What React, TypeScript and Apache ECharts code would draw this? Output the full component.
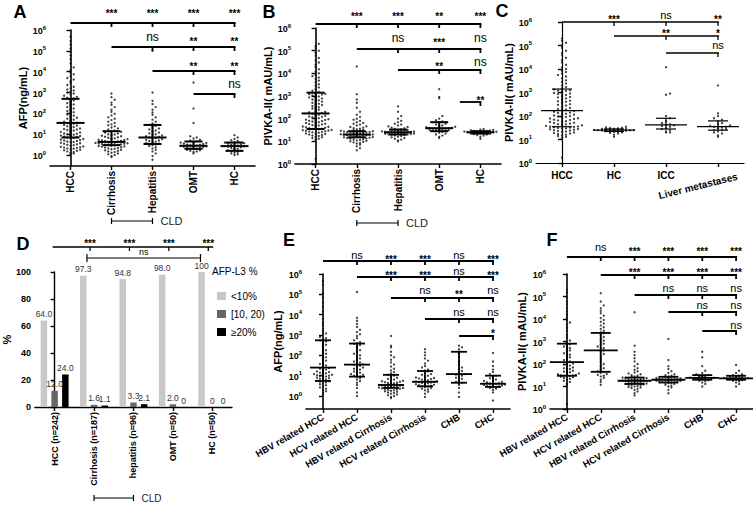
import React, { useEffect, useRef } from "react";
import * as echarts from "echarts";

const FONT = "'Liberation Sans', Arial, Helvetica, sans-serif";

// ---------------- categories ----------------
const catsAB = ["HCC", "Cirrhosis", "Hepatitis", "OMT", "HC"];
const catsC = ["HCC", "HC", "ICC", "Liver metastases"];
const catsD = ["HCC (n=242)", "Cirrhosis (n=187)", "hepatitis (n=96)", "OMT (n=50)", "HC (n=50)"];
const catsEF = ["HBV related HCC", "HCV related HCC", "HBV related Cirrhosis", "HCV related Cirrhosis", "CHB", "CHC"];
const decadeTicks = [1, 10, 100, 1000, 10000, 100000, 1000000];

// ---------------- Panel A: AFP (ng/mL) ----------------
const afpHCC = [1.1,1.2,1.3,1.4,1.5,1.6,1.7,1.8,1.9,2.0,2.1,2.2,2.3,2.4,2.5,2.6,2.8,3.0,3.1,3.3,3.5,3.7,3.9,4.1,4.3,4.5,4.8,5.0,5.3,5.6,5.9,6.2,6.6,
  7.0,7.4,7.8,8.2,8.6,9.0,9.5,10,10.5,11,12,13,14,15,16,17,18,19,20,22,24,26,28,30,32,34,
  36,40,45,50,56,62,70,78,88,100,115,130,150,170,200,230,270,310,360,420,480,
  520,560,620,700,800,900,1000,1100,1250,1400,1600,1900,2300,2800,3500,4200,5000,6000,7500,9000,12000,16000,25000,40000,60000,90000,130000,200000,300000,480000];
const afpCirrhosis = [0.8,0.9,1.0,1.1,1.2,1.3,1.4,1.5,1.6,1.7,1.8,1.9,2.0,2.1,2.2,2.3,2.4,2.5,2.6,2.7,2.8,2.9,3.0,3.1,3.2,3.3,3.4,3.5,3.6,3.7,3.8,3.9,4.0,4.1,4.2,4.3,4.5,4.7,4.9,5.1,5.3,5.5,5.8,6.1,6.4,6.8,7.2,7.6,8.0,8.5,9.0,9.6,10,11,12,13,14,15,17,19,21,24,27,30,35,40,48,56,65,80,95,120,150,200,260,330,450,600,900];
const afpHepatitis = [0.6,0.9,1.2,1.5,1.8,2.1,2.4,2.7,3.0,3.2,3.4,3.6,3.8,4.1,4.4,4.7,5.0,5.4,5.8,6.2,6.6,7.0,7.5,8.0,8.6,9.2,10,11,12,13.5,15,17,19,22,25,28,33,40,50,65,85,110,150,200,280,400,1000,100000];
const afpOMT = [1.2,1.4,1.5,1.6,1.7,1.8,1.9,2.0,2.1,2.2,2.3,2.4,2.5,2.6,2.7,2.8,2.9,3.0,3.1,3.2,3.4,3.6,3.8,4.0,4.3,4.6,5.0,5.5,6.2,7.0,8.0,35,170,3000];
const afpHC = [1.0,1.1,1.2,1.3,1.4,1.5,1.6,1.7,1.9,2.0,2.2,2.4,2.5,2.6,2.7,2.8,2.9,3.1,3.3,3.5,3.7,4.0,4.3,4.7,5.2,6.0,7.0,9.0];
const medA = [35, 4.3, 7, 2.8, 2.7];
const q1A = [7, 3, 3.4, 2, 1.6];
const q3A = [500, 14, 28, 4.5, 4];
const sigA = [["***","***","***","***"], ["ns","**","**"], ["**","**"], ["ns"]];

// ---------------- Panel B: PIVKA-II (mAU/mL) ----------------
const pivHCC = [1.7,12,13,14,15,16,17,18,19,20,21,22,23,24,25,26,27,28,29,30,31,32,33,34,35,36,38,40,
  42,44,45,48,50,52,56,58,60,65,68,70,75,78,80,88,90,95,100,105,115,120,125,135,140,150,165,
  180,190,200,220,250,280,300,320,360,400,420,450,500,560,620,650,700,780,860,900,950,1050,1150,1200,1250,1350,
  1500,1700,2000,2400,2800,3300,4000,4800,5600,6500,7500,8500,10000,12000,15000,19000,24000,30000,38000,48000,60000,80000,100000,130000,160000,200000];
const pivCirrhosis = [4,5,6,7,8,8.5,9,9.5,10,10.5,11,11.5,12,12.5,13,13.5,14,14.5,15,15.5,16,16.5,17,17.5,18,18.5,19,19.5,20,20,20.5,21,21.5,22,22.5,23,23.5,24,24.5,25,25.5,26,27,28,29,30,31,32,34,36,38,40,43,46,50,55,60,65,70,80,90,100,120,150,200,300,500,700,1200,20000];
const pivHepatitis = [10,11,12,13,14,15,16,17,18,19,19.5,20,20.5,21,21.5,22,22.5,23,23.5,24,24.5,25,25.5,26,26.5,27,27.5,28,29,30,31,32,33,34,36,38,40,43,46,50,55,60,70,80,100,130,200,350];
const pivOMT = [14,16,18,20,22,24,26,28,29,30,31,32,33,34,35,36,37,38,39,40,42,44,47,50,55,60,68,75,85,100,130,800,900,2000];
const pivHC = [13,16,18,19,20,21,21.5,22,22.5,23,23.5,24,24.5,25,25,25.5,26,26.5,27,27.5,28,28.5,29,30,31,32,33,35];
const medB = [170, 20, 25, 38, 25];
const q1B = [35, 15, 20, 28, 22];
const q3B = [1400, 28, 33, 70, 28];
const sigB = [["***","***","**","***"], ["ns","***","ns"], ["**","ns"], ["**"]];

// ---------------- Panel C ----------------
const pivICC = [20,20,22,25,28,30,35,38,40,42,45,50,60,80,100,800,900,12000];
const pivLiverMet = [13,15,18,20,22,25,25,28,30,32,35,35,38,40,45,50,60,70,80,100,130,2000];
const medC = [170, 25, 42, 35];
const q1C = [35, 22, 28, 25];
const q3C = [1400, 28, 80, 62];
const sigC = [["***","ns","**"], ["**","*"], ["ns"]];

// ---------------- Panel D: AFP-L3 % ----------------
const afpL3Below10 = [64.0, 97.3, 94.8, 98.0, 100];
const afpL3From10To20 = [12.0, 1.6, 3.3, 2.0, 0];
const afpL3Above20 = [24.0, 1.1, 2.1, 0, 0];
const afpL3Names = ["<10%", "[10, 20)", "\u226520%"];
const sigD = [["***","***","***","***"]];

// ---------------- Panel E: AFP by etiology ----------------
const afpHBVHCC = [1.1,1.4,1.7,2.0,2.3,2.6,3.0,3.4,3.8,4.2,4.6,5.0,5.3,5.6,6.0,6.5,7.0,
  7.5,8,8.5,9,9.5,10,10.5,11,12,12.5,13,14,15,16,18,20,22,24,
  28,32,38,45,55,65,80,100,120,150,180,220,270,330,400,480,540,
  600,700,800,1000,1200,1500,2000,3000,4000,6000,10000,15000,25000,40000,70000,120000,300000,450000];
const afpHCVHCC = [1.0,1.5,2.5,3.5,4.5,5.5,6.5,7.5,8.5,9,10,11,12,13,14,16,18,20,22,25,28,31,34,36,40,45,50,60,70,85,100,120,150,180,220,270,320,370,400,450,550,700,900,1100,1400,1800,2500,3500,5000,7000,130000];
const afpHBVCirr = [0.8,0.9,1.0,1.1,1.2,1.3,1.4,1.5,1.6,1.7,1.8,1.9,2.0,2.1,2.2,2.3,2.4,2.5,2.6,2.7,2.8,2.9,3.0,3.1,3.2,3.3,3.4,3.5,3.6,3.7,3.8,4.0,4.2,4.4,4.6,4.8,5.0,5.3,5.6,6.0,6.5,7.0,8.0,9.0,10,11,13,15,18,22,28,35,45,60,80,100,150,250,300,900];
const afpHCVCirr = [0.9,1.3,1.6,1.9,2.1,2.3,2.5,2.7,2.9,3.0,3.2,3.4,3.6,3.8,4.0,4.2,4.4,4.6,4.8,5.0,5.2,5.4,5.7,6.0,6.4,6.8,7.2,7.7,8.2,9.0,10,11,12,14,16,18,20,25,30,40,55,70,100,140,200];
const afpCHB = [0.9,1.5,2.5,3.5,4.0,4.5,5.0,6,7,8,9,10,11,12,14,17,20,25,35,50,80,120,150,200,250,300];
const afpCHC = [0.6,1.5,2.0,2.3,2.5,2.7,2.8,2.9,3.0,3.1,3.3,3.5,3.7,3.9,4.0,4.2,4.4,4.7,5.0,5.5,6.0,6.5,7.5,8.5,10,12,15,20,30,50,130];
const medE = [25, 35, 3.5, 5, 12, 4];
const q1E = [5.5, 9, 2.5, 3, 4.5, 2.8];
const q3E = [550, 380, 11, 17, 150, 10];
const sigE = [["ns","***","***","ns","***"], ["***","***","ns","***"], ["ns","**","ns"], ["ns","ns"], ["*"]];

// ---------------- Panel F: PIVKA-II by etiology ----------------
const pivHBVHCC = [1.7,12,14,16,18,20,22,24,26,27,28,29,30,31,32,33,35,
  38,40,43,46,50,55,60,65,70,78,85,95,105,115,
  130,150,170,200,230,260,300,350,400,460,520,600,680,760,
  900,1100,1500,2000,3000,4000,5500,7000,9000,12000,16000,22000,30000,45000,60000,90000,150000,200000];
const pivHCVHCC = [12,16,20,24,28,30,33,36,40,44,48,55,65,80,100,130,170,220,280,340,400,460,520,600,700,800,950,1100,1300,1600,1900,2300,2600,3000,3600,4300,5200,6300,7500,9000,11000,14000,18000,23000,30000,40000,60000,140000];
const pivHBVCirr = [4,5,6,7,8,8.5,9,9.5,10,10.5,11,11.5,12,12.5,13,13.5,14,14.5,15,15.5,16,16.5,17,17.5,18,18,18.5,19,19.5,20,20.5,21,21.5,22,23,24,25,26,27,28,30,32,35,38,42,48,55,65,80,100,130,180,250,350,650,20000];
const pivHCVCirr = [5,7,9,10,11,12,13,14,14.5,15,15.5,16,16.5,17,17.5,18,18.5,19,19.5,20,20.5,21,21.5,22,22.5,23,24,25,26,27,28,30,32,35,40,48,60,80,150,1300];
const pivCHB = [10,13,15,17,18,19,20,21,22,22.5,23,23.5,24,24.5,25,26,27,28,29,30,32,35,40,50,80,200,350];
const pivCHC = [10,13,15,17,18,19,20,20.5,21,21.5,22,22.5,23,23.5,24,24.5,25,26,27,28,30,32,35,40,50,90];
const medF = [120, 400, 18, 20, 24, 23];
const q1F = [30, 45, 13, 15, 20, 20];
const q3F = [800, 2400, 25, 27, 32, 30];
const sigF = [["ns","***","***","***","***"], ["***","***","***","***"], ["ns","ns","ns"], ["ns","ns"], ["ns"]];

// ---------------- layout helpers ----------------
type DotPanel = {
  letter: string; lx: number; ly: number;
  grid: { left: number; top: number; width: number; height: number };
  cats: string[]; groups: number[][]; med: number[]; q1: number[]; q3: number[];
  yMin: number; yName: string; nameGap: number;
  rotate: number; labelSize: number;
  lw: number; medHalf: number; capHalf: number;
  dxPx: number; maxPx: number; binPx: number;
  sig: string[][]; rowY: number[]; rowFrom: number[]; rowDy: number[]; nsSize: number;
  cld?: number;
};

const dotPanels: DotPanel[] = [
  { letter: "A", lx: 20, ly: 12, grid: { left: 50, top: 30, width: 205, height: 136 },
    cats: catsAB, groups: [afpHCC, afpCirrhosis, afpHepatitis, afpOMT, afpHC], med: medA, q1: q1A, q3: q3A,
    yMin: 0.3, yName: "AFP(ng/mL)", nameGap: 19, rotate: 90, labelSize: 10,
    lw: 2, medHalf: 14, capHalf: 9, dxPx: 3.2, maxPx: 16, binPx: 3.6,
    sig: sigA, rowY: [23, 47, 71, 94], rowFrom: [0, 1, 2, 3], rowDy: [-13, -9, -8, -9], nsSize: 12, cld: 221 },
  { letter: "B", lx: 269, ly: 12, grid: { left: 295, top: 28, width: 206, height: 136 },
    cats: catsAB, groups: [pivHCC, pivCirrhosis, pivHepatitis, pivOMT, pivHC], med: medB, q1: q1B, q3: q3B,
    yMin: 1, yName: "PIVKA-II( mAU/mL)", nameGap: 20, rotate: 90, labelSize: 10,
    lw: 2, medHalf: 14, capHalf: 9, dxPx: 3.2, maxPx: 16, binPx: 3.6,
    sig: sigB, rowY: [24, 49, 70, 102], rowFrom: [0, 1, 2, 3.5], rowDy: [-11, -10, -7, -5], nsSize: 12, cld: 223 },
  { letter: "C", lx: 502, ly: 11, grid: { left: 536, top: 22, width: 208, height: 141 },
    cats: catsC, groups: [pivHCC, pivHC, pivICC, pivLiverMet], med: medC, q1: q1C, q3: q3C,
    yMin: 1, yName: "PIVKA-II( mAU/mL)", nameGap: 20, rotate: 0, labelSize: 10,
    lw: 1.2, medHalf: 21, capHalf: 10, dxPx: 4, maxPx: 21, binPx: 3.6,
    sig: sigC, rowY: [22, 36, 53], rowFrom: [0, 1, 2], rowDy: [-6, -6, -7], nsSize: 11 },
  { letter: "E", lx: 289, ly: 240, grid: { left: 306, top: 274, width: 204, height: 135 },
    cats: catsEF, groups: [afpHBVHCC, afpHCVHCC, afpHBVCirr, afpHCVCirr, afpCHB, afpCHC], med: medE, q1: q1E, q3: q3E,
    yMin: 0.23, yName: "AFP(ng/mL)", nameGap: 23, rotate: 30, labelSize: 9.5,
    lw: 1.8, medHalf: 13, capHalf: 8, dxPx: 3, maxPx: 13, binPx: 3.4,
    sig: sigE, rowY: [261, 277, 298, 319, 336], rowFrom: [0, 1, 2, 3, 4], rowDy: [-5, -5, -7, -6, -6], nsSize: 11 },
  { letter: "F", lx: 552, ly: 240, grid: { left: 550, top: 274, width: 203, height: 135 },
    cats: catsEF, groups: [pivHBVHCC, pivHCVHCC, pivHBVCirr, pivHCVCirr, pivCHB, pivCHC], med: medF, q1: q1F, q3: q3F,
    yMin: 1, yName: "PIVKA-II( mAU/mL)", nameGap: 23, rotate: 30, labelSize: 9.5,
    lw: 1.8, medHalf: 17, capHalf: 10, dxPx: 3, maxPx: 14, binPx: 3.4,
    sig: sigF, rowY: [257, 275, 295, 312, 331], rowFrom: [0, 1, 2, 3, 4], rowDy: [-9, -6, -6, -6, -5], nsSize: 11 },
];

const gridD = { left: 30, top: 272, width: 202, height: 135 };

function swarm(values: number[], ci: number, binDec: number, dx: number, maxSteps: number) {
  const sorted = values.slice().sort((a, b) => a - b);
  const count = new Map<number, number>();
  return sorted.map((v) => {
    const b = Math.round(Math.log10(v) / binDec);
    const k = count.get(b) || 0;
    count.set(b, k + 1);
    let s = Math.ceil(k / 2);
    if (s > maxSteps) s = ((s - 1) % maxSteps) + 1;
    const sign = k % 2 === 1 ? 1 : -1;
    return [ci + sign * s * dx, v];
  });
}

function statRender(lw: number, medHalf: number, capHalf: number) {
  return (_params: any, api: any) => {
    const x = api.value(0);
    const lo = api.coord([x, api.value(1)]);
    const md = api.coord([x, api.value(2)]);
    const hi = api.coord([x, api.value(3)]);
    const st = { stroke: "#000", lineWidth: lw };
    return {
      type: "group",
      children: [
        { type: "line", shape: { x1: lo[0], y1: lo[1], x2: hi[0], y2: hi[1] }, style: st },
        { type: "line", shape: { x1: md[0] - medHalf, y1: md[1], x2: md[0] + medHalf, y2: md[1] }, style: st },
        { type: "line", shape: { x1: lo[0] - capHalf, y1: lo[1], x2: lo[0] + capHalf, y2: lo[1] }, style: st },
        { type: "line", shape: { x1: hi[0] - capHalf, y1: hi[1], x2: hi[0] + capHalf, y2: hi[1] }, style: st },
      ],
    };
  };
}

const supRich = {
  b: { fontSize: 9, fontWeight: "bold", fontFamily: FONT, color: "#000", verticalAlign: "bottom", lineHeight: 11 },
  s: { fontSize: 6, fontWeight: "bold", fontFamily: FONT, color: "#000", verticalAlign: "top", lineHeight: 11 },
};

function buildOption() {
  const grid: any[] = [];
  const xAxis: any[] = [];
  const yAxis: any[] = [];
  const series: any[] = [];
  const valAxisIdx: number[] = [];

  dotPanels.forEach((p, pi) => {
    const n = p.cats.length;
    grid.push({ ...p.grid, containLabel: false });
    const axLine = { show: true, lineStyle: { color: "#000", width: p.lw > 1.5 ? 1.6 : 1.2 } };
    xAxis.push({
      type: "category", gridIndex: pi, data: p.cats, boundaryGap: true,
      axisLine: axLine,
      axisTick: { show: true, alignWithLabel: true, length: 4, lineStyle: { color: "#000", width: 1.4 } },
      axisLabel: {
        rotate: p.rotate, margin: p.rotate === 90 ? 5 : 7, interval: 0,
        fontSize: p.labelSize, fontWeight: "bold", fontFamily: FONT, color: "#000",
        formatter: (v: string) => (p.letter === "C" && v === "Liver metastases" ? "" : v),
      },
      splitLine: { show: false },
    });
    valAxisIdx.push(xAxis.length);
    xAxis.push({ type: "value", gridIndex: pi, min: -0.5, max: n - 0.5, show: false });
    yAxis.push({
      type: "log", logBase: 10, gridIndex: pi, min: p.yMin, max: 1e6,
      axisLine: axLine,
      axisTick: { show: true, length: 4, customValues: decadeTicks, lineStyle: { color: "#000", width: 1.4 } },
      axisLabel: {
        customValues: decadeTicks, margin: 4,
        formatter: (v: number) => `{b|10}{s|${Math.round(Math.log10(v))}}`,
        rich: supRich,
      },
      minorTick: { show: false },
      splitLine: { show: false },
      name: p.yName, nameLocation: "middle", nameGap: p.nameGap,
      nameTextStyle: { fontSize: 11, fontWeight: "bold", fontFamily: FONT, color: "#000" },
    });
    const spacing = p.grid.width / n;
    const decPx = p.grid.height / (6 - Math.log10(p.yMin));
    const binDec = p.binPx / decPx;
    const dx = p.dxPx / spacing;
    const maxSteps = Math.max(1, Math.floor(p.maxPx / p.dxPx));
    const pts: number[][] = [];
    p.groups.forEach((g, ci) => pts.push(...swarm(g, ci, binDec, dx, maxSteps)));
    series.push({
      type: "scatter", xAxisIndex: valAxisIdx[pi], yAxisIndex: pi, data: pts,
      symbol: "circle", symbolSize: 2.3, itemStyle: { color: "#111" }, silent: true, z: 2,
    });
    series.push({
      type: "custom", xAxisIndex: valAxisIdx[pi], yAxisIndex: pi,
      data: p.cats.map((_, i) => [i, p.q1[i], p.med[i], p.q3[i]]),
      encode: { x: 0, y: [1, 2, 3] },
      renderItem: statRender(p.lw, p.medHalf, p.capHalf), silent: true, z: 3,
    });
  });

  // Panel D (bars)
  const dGrid = grid.length;
  grid.push({ ...gridD, containLabel: false });
  const dCat = xAxis.length;
  xAxis.push({
    type: "category", gridIndex: dGrid, data: catsD, boundaryGap: true,
    axisLine: { show: true, lineStyle: { color: "#000", width: 1.4 } },
    axisTick: { show: true, alignWithLabel: true, length: 4, lineStyle: { color: "#000", width: 1.4 } },
    axisLabel: { rotate: 90, margin: 5, interval: 0, fontSize: 9, fontWeight: "bold", fontFamily: FONT, color: "#000" },
  });
  const dVal = xAxis.length;
  xAxis.push({ type: "value", gridIndex: dGrid, min: -0.5, max: catsD.length - 0.5, show: false });
  const dY = yAxis.length;
  yAxis.push({
    type: "value", gridIndex: dGrid, min: 0, max: 100, interval: 20,
    axisLine: { show: true, lineStyle: { color: "#000", width: 1.4 } },
    axisTick: { show: true, length: 4, lineStyle: { color: "#000", width: 1.4 } },
    axisLabel: { fontSize: 9, fontWeight: "bold", fontFamily: FONT, color: "#000", margin: 4 },
    splitLine: { show: false },
    name: "%", nameLocation: "middle", nameGap: 18,
    nameTextStyle: { fontSize: 11, fontWeight: "bold", fontFamily: FONT, color: "#000" },
  });
  const barColors = ["#c8c8c8", "#666666", "#000000"];
  [afpL3Below10, afpL3From10To20, afpL3Above20].forEach((d, si) => {
    series.push({
      type: "bar", name: afpL3Names[si], xAxisIndex: dCat, yAxisIndex: dY, data: d,
      barWidth: 6.5, barGap: "65%", itemStyle: { color: barColors[si] },
      label: {
        show: true, position: "top", distance: 2, fontSize: 8.5, fontFamily: FONT, color: "#333",
        formatter: (pp: any) => (pp.value === 0 || pp.value === 100 ? String(pp.value) : pp.value.toFixed(1)),
      },
      silent: true,
    });
  });

  return {
    option: {
      animation: false,
      backgroundColor: "#ffffff",
      textStyle: { fontFamily: FONT },
      grid, xAxis, yAxis, series,
      legend: {
        show: true, orient: "vertical", left: 212, top: 286, itemWidth: 9, itemHeight: 8, itemGap: 8,
        icon: "rect", data: afpL3Names, selectedMode: false,
        textStyle: { fontSize: 10, fontFamily: FONT, color: "#000" },
      },
    },
    valAxisIdx, dVal,
  };
}

function textEl(x: number, y: number, text: string, size: number, bold: boolean, align = "center", fill = "#000") {
  return {
    type: "text", x, y, silent: true, z: 10,
    style: {
      text, fontSize: size, fontWeight: bold ? "bold" : "normal", fontFamily: FONT, fill,
      align, verticalAlign: "middle", textAlign: align, textVerticalAlign: "middle",
    },
  };
}
function lineEl(x1: number, y1: number, x2: number, y2: number, lw: number) {
  return { type: "line", silent: true, z: 10, shape: { x1, y1, x2, y2 }, style: { stroke: "#000", lineWidth: lw } };
}

export default function App() {
  const ref = useRef<HTMLDivElement>(null);
  useEffect(() => {
    if (!ref.current) return;
    const chart = echarts.init(ref.current, null, { renderer: "svg" });
    const { option, valAxisIdx, dVal } = buildOption();
    chart.setOption(option as any);

    const g: any[] = [];
    dotPanels.forEach((p, pi) => {
      const n = p.cats.length;
      const px = (v: number) => chart.convertToPixel({ xAxisIndex: valAxisIdx[pi] } as any, v) as number;
      g.push(textEl(p.lx, p.ly, p.letter, 18, true));
      const blw = p.lw > 1.5 ? 1.8 : 1.3;
      p.sig.forEach((labels, r) => {
        const y = p.rowY[r];
        const from = p.rowFrom[r];
        g.push(lineEl(px(from), y, px(n - 1) + 1, y, blw));
        const first = Math.floor(from) + 1;
        labels.forEach((lab, j) => {
          const cx = px(first + j);
          g.push(lineEl(cx, y, cx, y + 4, blw));
          const isNs = lab === "ns";
          const ty = y + p.rowDy[r] + (isNs ? -1 : 3);
          g.push(textEl(cx, ty, lab, isNs ? p.nsSize : 10, !isNs));
        });
      });
      if (p.cld !== undefined) {
        const x1 = px(1), x2 = px(2), y = p.cld;
        g.push(lineEl(x1, y, x2, y, 1.2));
        g.push(lineEl(x1, y - 3, x1, y + 3, 1.2));
        g.push(lineEl(x2, y - 3, x2, y + 3, 1.2));
        g.push(textEl(x2 + 8, y, "CLD", 11, false, "left", "#222"));
      }
      if (p.letter === "C") {
        const lx = px(3) - 20;
        const t: any = textEl(lx, 186, "Liver metastases", 10, true);
        t.rotation = (14 * Math.PI) / 180;
        t.originX = 0; t.originY = 0;
        g.push(t);
      }
    });

    // Panel D annotations
    const pxD = (v: number) => chart.convertToPixel({ xAxisIndex: dVal } as any, v) as number;
    g.push(textEl(23, 244, "D", 18, true));
    const yD = 247;
    g.push(lineEl(pxD(0) - 2, yD, pxD(4) + 1, yD, 1.3));
    sigD[0].forEach((lab, j) => {
      const cx = pxD(j + 1) - 4;
      g.push(lineEl(cx, yD, cx, yD + 4, 1.3));
      g.push(textEl(cx, yD - 4, lab, 10, true));
    });
    const nsX1 = pxD(0.82), nsX2 = pxD(3.7), nsY = 258;
    g.push(lineEl(nsX1, nsY, nsX2, nsY, 1.2));
    g.push(lineEl(nsX1, nsY - 4, nsX1, nsY + 4, 1.2));
    g.push(lineEl(nsX2, nsY - 4, nsX2, nsY + 4, 1.2));
    g.push(textEl((nsX1 + nsX2) / 2, nsY - 6, "ns", 9, false));
    g.push(textEl(212, 271, "AFP-L3 %", 10, false, "left"));
    {
      const x1 = pxD(1), x2 = pxD(2), y = 498;
      g.push(lineEl(x1, y, x2, y, 1.2));
      g.push(lineEl(x1, y - 3, x1, y + 3, 1.2));
      g.push(lineEl(x2, y - 3, x2, y + 3, 1.2));
      g.push(textEl(x2 + 8, y, "CLD", 10, false, "left", "#222"));
    }

    chart.setOption({ graphic: { elements: g } } as any);
    return () => chart.dispose();
  }, []);
  return <div ref={ref} style={{ position: "fixed", left: 0, top: 0, width: 753, height: 508, background: "#fff" }} />;
}
